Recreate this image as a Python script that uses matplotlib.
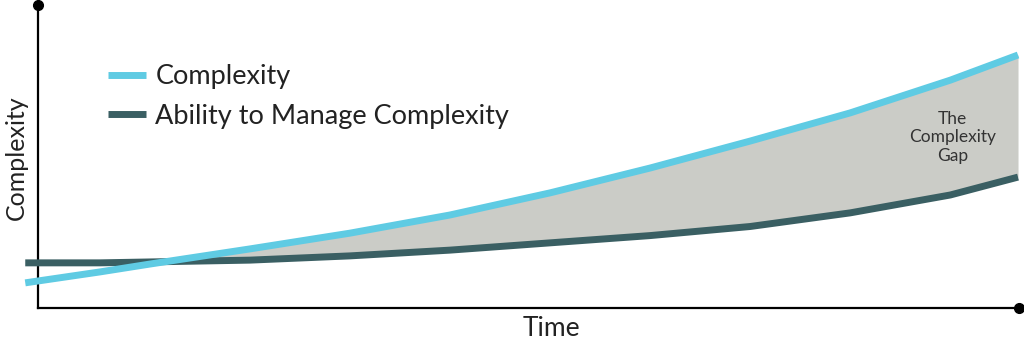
import matplotlib
matplotlib.use("Agg")
import matplotlib.pyplot as plt
import numpy as np

# Data
time = [-0.13, 0.63, 1.14, 2.16, 3.18, 4.20, 5.22, 6.24, 7.26, 8.28, 9.30, 9.99]
complexity = [0.83, 1.19, 1.45, 1.95, 2.47, 3.07, 3.80, 4.62, 5.51, 6.44, 7.52, 8.35]
ability = [1.49, 1.49, 1.52, 1.58, 1.72, 1.91, 2.15, 2.39, 2.69, 3.14, 3.73, 4.32]
series_labels = ["Complexity", "Ability to Manage Complexity"]

plt.rcParams['font.family'] = ['Lato', 'DejaVu Sans']

BLUE = "#5fcbe3"
DARK = "#3a5f63"
GAP = "#cbccc7"

fig = plt.figure(figsize=(10.24, 3.54), dpi=100)
W, H = 1024, 354
ax = fig.add_axes([38 / W, (H - 308) / H, 981 / W, 303 / H])
ax.set_xlim(0, 10)
ax.set_ylim(0, 10)

t = np.array(time)
c = np.array(complexity)
a = np.array(ability)
ax.fill_between(t, a, c, where=c >= a, interpolate=True, color=GAP, lw=0, zorder=1)
ax.plot(t, a, color=DARK, lw=5.0, solid_capstyle='butt', solid_joinstyle='round',
        clip_on=False, zorder=3, label=series_labels[1])
ax.plot(t, c, color=BLUE, lw=5.0, solid_capstyle='butt', solid_joinstyle='round',
        clip_on=False, zorder=4, label=series_labels[0])

for s in ["top", "right"]:
    ax.spines[s].set_visible(False)
for s in ["left", "bottom"]:
    ax.spines[s].set_linewidth(1.6)
    ax.spines[s].set_color("black")
ax.set_xticks([])
ax.set_yticks([])

# end dots of the axes
ax.plot([0], [1], 'o', color='black', ms=7, transform=ax.transAxes, clip_on=False, zorder=5)
ax.plot([1], [0], 'o', color='black', ms=7, transform=ax.transAxes, clip_on=False, zorder=5)

ax.set_xlabel("Time", fontsize=19, color="#222222")
ax.xaxis.set_label_coords((551 - 38) / 981, -0.025)
ax.xaxis.label.set_va("top")
ax.set_ylabel("Complexity", fontsize=18, color="#222222")
ax.yaxis.set_label_coords(-22 / 981, (308 - 158) / 303)
ax.yaxis.label.set_va("center")

# legend
handles, labels = ax.get_legend_handles_labels()
leg = ax.legend(handles[::-1], labels[::-1], loc="upper left",
                bbox_to_anchor=((108 - 38) / 981, (308 - 64) / 303), frameon=False,
                fontsize=19.5, handlelength=1.4, handletextpad=0.35, labelspacing=0.55,
                borderpad=0, borderaxespad=0)
for txt in leg.get_texts():
    txt.set_color("#222222")

ax.text(9.32, 5.64, "The\nComplexity\nGap", ha="center", va="center",
        fontsize=12.5, color="#333333", linespacing=1.2)

fig.savefig("out.png", dpi=100)
